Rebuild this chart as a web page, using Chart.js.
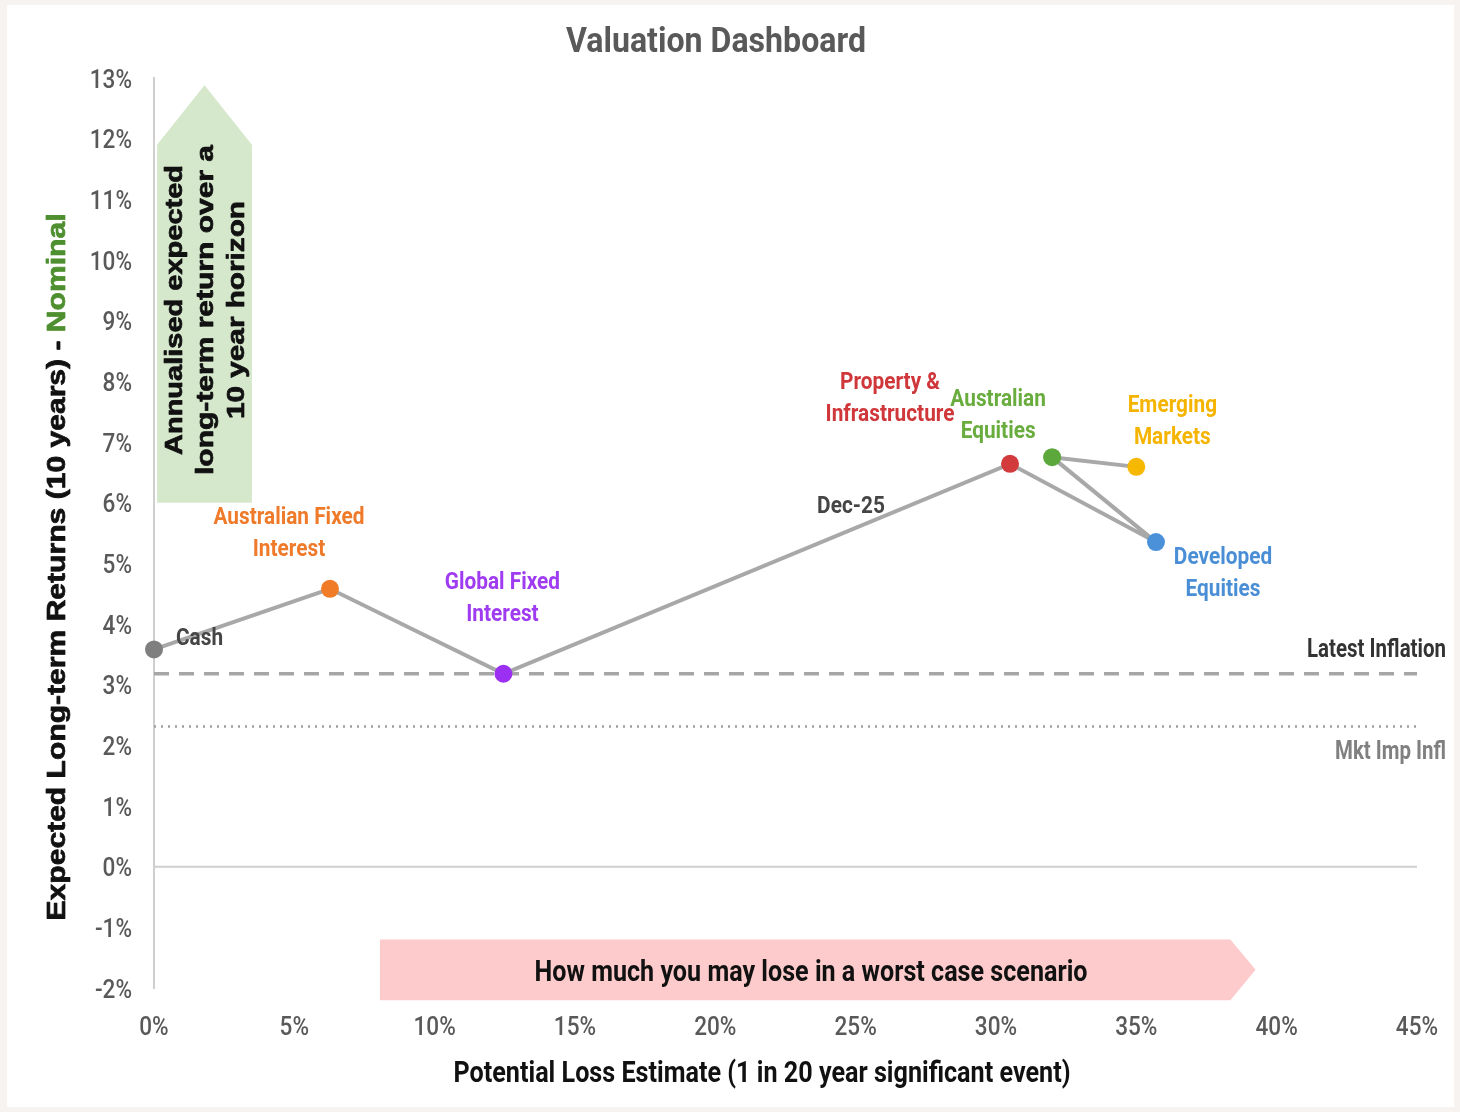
<!DOCTYPE html>
<html>
<head>
<meta charset="utf-8">
<title>Valuation Dashboard</title>
<script src="https://cdn.jsdelivr.net/npm/chart.js@4.4.1/dist/chart.umd.min.js"></script>
<style>
  html, body { margin: 0; padding: 0; background: #f6f3f1; }
  canvas { display: block; }
</style>
</head>
<body>
<canvas id="chart" width="1460" height="1112"></canvas>
<script>
// ---- Data -------------------------------------------------------------
// Path order of the connecting line: Cash -> AFI -> GFI -> Property -> Developed -> Australian Eq -> Emerging
const assetNames = ['Cash', 'Australian Fixed Interest', 'Global Fixed Interest',
  'Property & Infrastructure', 'Developed Equities', 'Australian Equities', 'Emerging Markets'];
const labelLines = [['Cash'], ['Australian Fixed', 'Interest'], ['Global Fixed', 'Interest'],
  ['Property &', 'Infrastructure'], ['Developed', 'Equities'], ['Australian', 'Equities'], ['Emerging', 'Markets']];
const lossEstimate   = [0.0, 6.27, 12.45, 30.5, 35.7, 32.0, 35.0];   // % potential loss (x)
const expectedReturn = [3.58, 4.58, 3.18, 6.64, 5.35, 6.75, 6.59];   // % expected return (y)
const pointColours = ['#7f7f7f', '#f07c28', '#9b2ff2', '#d23a3c', '#4b91da', '#5ca83d', '#f6b800'];
const labelColours = ['#454545', '#ee7a2a', '#9f3bf0', '#d0373b', '#4a8fd6', '#69ad3e', '#f4b400'];
const latestInflation = 3.18;
const marketImpliedInflation = 2.31;
const snapshotLabel = 'Dec-25';
const xTickValues = [0, 5, 10, 15, 20, 25, 30, 35, 40, 45];
const yTickValues = [-2, -1, 0, 1, 2, 3, 4, 5, 6, 7, 8, 9, 10, 11, 12, 13];

// ---- Label placement (pixel offsets from each point) ------------------
const labelPlacement = [
  { dx: 22,   dy: -13, align: 'left' },
  { dx: -41,  dy: -74, align: 'center' },
  { dx: -1,   dy: -94, align: 'center' },
  { dx: -120, dy: -84, align: 'center' },
  { dx: 67,   dy: 13,  align: 'center' },
  { dx: -54,  dy: -60, align: 'center' },
  { dx: 36,   dy: -64, align: 'center' }
];

// ---- Text helpers ------------------------------------------------------
const NARROW = 'Roboto, "Liberation Sans", sans-serif';
const WIDE = '"Liberation Sans", Arial, sans-serif';
let narrowFactor = null;
function getNarrowFactor(ctx) {
  if (narrowFactor === null) {
    ctx.save();
    ctx.font = 'bold 29px ' + NARROW;
    narrowFactor = 617 / ctx.measureText('Potential Loss Estimate (1 in 20 year significant event)').width;
    ctx.restore();
  }
  return narrowFactor;
}
// draws one line of text, vertically centred on its cap height
function drawText(ctx, str, x, y, o) {
  ctx.save();
  ctx.font = (o.weight || 'bold') + ' ' + o.size + 'px ' + (o.family || NARROW);
  let sx = o.sx !== undefined ? o.sx : getNarrowFactor(ctx);
  if (o.width) sx = o.width / ctx.measureText(str).width;
  ctx.translate(x, y);
  if (o.rotate) ctx.rotate(o.rotate);
  ctx.scale(sx, 1);
  ctx.fillStyle = o.color || '#222';
  ctx.textAlign = o.align || 'center';
  ctx.textBaseline = 'middle';
  const dy = o.rotate ? 0 : 3;
  ctx.fillText(str, 0, dy);
  if (o.heavy) {
    ctx.strokeStyle = o.color || '#222';
    ctx.lineWidth = o.heavy;
    ctx.lineJoin = 'round';
    ctx.strokeText(str, 0, dy);
  }
  ctx.restore();
}

// ---- Plugins -----------------------------------------------------------
const backdrop = {
  id: 'backdrop',
  beforeDraw(chart) {
    const c = chart.ctx;
    c.save();
    c.fillStyle = '#f6f3f1';
    c.fillRect(0, 0, chart.width, chart.height);
    c.fillStyle = '#ffffff';
    c.fillRect(7, 5, chart.width - 13, chart.height - 10);
    c.restore();
  }
};

const arrows = {
  id: 'arrows',
  beforeDatasetsDraw(chart) {
    const c = chart.ctx, xs = chart.scales.x, ys = chart.scales.y;
    const X = v => xs.getPixelForValue(v), Y = v => ys.getPixelForValue(v);
    c.save();
    // upward arrow: expected return direction
    c.fillStyle = '#d5e8cc';
    c.beginPath();
    c.moveTo(X(0.11), Y(6.0));
    c.lineTo(X(0.11), Y(11.9));
    c.lineTo(X(1.8), Y(12.88));
    c.lineTo(X(3.49), Y(11.9));
    c.lineTo(X(3.49), Y(6.0));
    c.closePath();
    c.fill();
    // rightward arrow: potential loss direction
    c.fillStyle = '#fdcbcb';
    c.beginPath();
    c.moveTo(X(8.05), Y(-1.2));
    c.lineTo(X(38.35), Y(-1.2));
    c.lineTo(X(39.25), Y(-1.7));
    c.lineTo(X(38.35), Y(-2.2));
    c.lineTo(X(8.05), Y(-2.2));
    c.closePath();
    c.fill();
    // zero line
    c.strokeStyle = '#cfcfcf';
    c.lineWidth = 2;
    c.beginPath();
    c.moveTo(chart.chartArea.left, Y(0));
    c.lineTo(chart.chartArea.right, Y(0));
    c.stroke();
    c.restore();
  }
};

const annotations = {
  id: 'annotations',
  afterDraw(chart) {
    const c = chart.ctx, xs = chart.scales.x, ys = chart.scales.y;
    // tick labels
    xs.ticks.forEach(t => drawText(c, t.value + '%', xs.getPixelForValue(t.value), 1025,
      { size: 26, weight: '500', color: '#595959' }));
    ys.ticks.forEach(t => drawText(c, t.value + '%', 132, ys.getPixelForValue(t.value),
      { size: 26, weight: '500', color: '#595959', align: 'right' }));

    // title and axis titles
    drawText(c, 'Valuation Dashboard', 716, 40, { size: 35, color: '#595959', width: 300 });
    drawText(c, 'Potential Loss Estimate (1 in 20 year significant event)', 762, 1072, { size: 29, color: '#111' });
    drawText(c, 'How much you may lose in a worst case scenario', 811, 971, { size: 29, color: '#111', width: 553 });

    // rotated y-axis title in two colours
    c.save();
    c.font = 'bold 25px ' + WIDE;
    const partA = 'Expected Long-term Returns (10 years) - ', partB = 'Nominal';
    const wA = c.measureText(partA).width, wB = c.measureText(partB).width;
    const s = 707 / (wA + wB);
    c.translate(58, 567);
    c.rotate(-Math.PI / 2);
    c.scale(s, 1);
    c.textBaseline = 'middle';
    c.textAlign = 'left';
    c.lineWidth = 0.7;
    c.lineJoin = 'round';
    c.fillStyle = c.strokeStyle = '#111';
    c.fillText(partA, -(wA + wB) / 2, 0);
    c.strokeText(partA, -(wA + wB) / 2, 0);
    c.fillStyle = c.strokeStyle = '#4e8f2f';
    c.fillText(partB, -(wA + wB) / 2 + wA, 0);
    c.strokeText(partB, -(wA + wB) / 2 + wA, 0);
    c.restore();

    // text inside the upward arrow
    const up = [['Annualised expected', 175, 290], ['long-term return over a', 206, 330], ['10 year horizon', 237, 218]];
    up.forEach(([str, x, w]) => drawText(c, str, x, 310,
      { size: 24, family: WIDE, color: '#111', width: w, rotate: -Math.PI / 2, heavy: 0.7 }));

    // inflation reference labels
    drawText(c, 'Latest Inflation', 1446, 648, { size: 25, color: '#333', align: 'right', width: 139 });
    drawText(c, 'Mkt Imp Infl', 1446, 750, { size: 25, color: '#808080', align: 'right', width: 111 });

    // asset labels
    const meta = chart.getDatasetMeta(0);
    meta.data.forEach((pt, i) => {
      const p = labelPlacement[i];
      labelLines[i].forEach((line, k) => drawText(c, line, pt.x + p.dx, pt.y + p.dy + k * 32,
        { size: 24, color: labelColours[i], align: p.align }));
    });

    // snapshot date label on the GFI -> Property segment
    const a = meta.data[2], b = meta.data[3], f = 0.686;
    drawText(c, snapshotLabel, a.x + (b.x - a.x) * f, a.y + (b.y - a.y) * f - 26,
      { size: 24, color: '#454545' });
  }
};

// ---- Chart -------------------------------------------------------------
const points = lossEstimate.map((x, i) => ({ x, y: expectedReturn[i] }));
const xMin = xTickValues[0], xMax = xTickValues[xTickValues.length - 1];

new Chart(document.getElementById('chart'), {
  type: 'scatter',
  data: {
    datasets: [
      {
        label: 'Assets',
        data: points,
        showLine: true,
        clip: false,
        borderColor: '#a8a8a8',
        borderWidth: 4,
        pointRadius: 9,
        pointHoverRadius: 9,
        pointBorderWidth: 0,
        pointBackgroundColor: pointColours,
        order: 0
      },
      {
        label: 'Latest Inflation',
        data: [{ x: xMin, y: latestInflation }, { x: xMax, y: latestInflation }],
        showLine: true,
        borderColor: '#a6a6a6',
        borderWidth: 3.5,
        borderDash: [15, 10],
        pointRadius: 0,
        order: 1
      },
      {
        label: 'Mkt Imp Infl',
        data: [{ x: xMin, y: marketImpliedInflation }, { x: xMax, y: marketImpliedInflation }],
        showLine: true,
        borderColor: '#a0a0a0',
        borderWidth: 2.5,
        borderDash: [2, 5],
        pointRadius: 0,
        order: 2
      }
    ]
  },
  options: {
    responsive: false,
    animation: false,
    layout: { padding: { top: 78, right: 43, left: 0, bottom: 0 } },
    plugins: { legend: { display: false }, tooltip: { enabled: false }, title: { display: false } },
    scales: {
      x: {
        type: 'linear', min: xMin, max: xMax,
        afterBuildTicks: s => { s.ticks = xTickValues.map(v => ({ value: v })); },
        ticks: { display: false },
        grid: { display: false },
        border: { display: false },
        afterFit: s => { s.height = 124; }
      },
      y: {
        type: 'linear', min: yTickValues[0], max: yTickValues[yTickValues.length - 1],
        afterBuildTicks: s => { s.ticks = yTickValues.map(v => ({ value: v })); },
        ticks: { display: false },
        grid: { display: false },
        border: { display: true, color: '#cfcfcf', width: 2 },
        afterFit: s => { s.width = 154; }
      }
    }
  },
  plugins: [backdrop, arrows, annotations]
});
</script>
</body>
</html>
